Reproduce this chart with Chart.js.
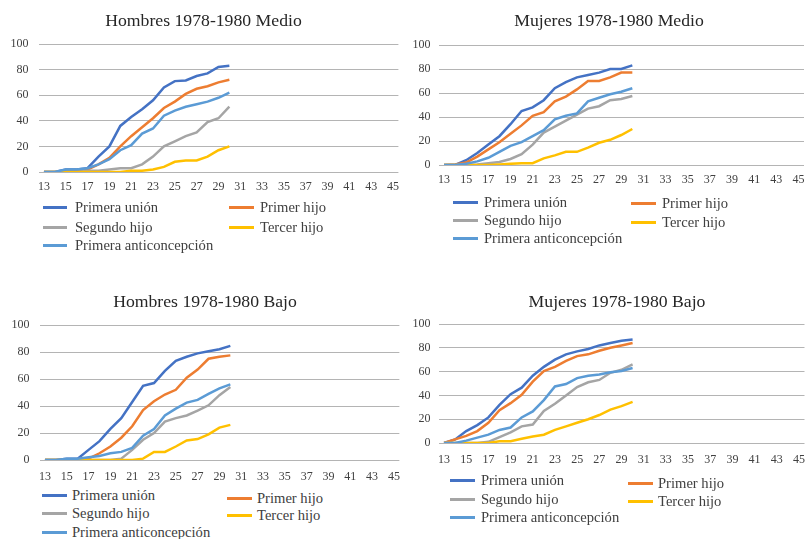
<!DOCTYPE html>
<html>
<head>
<meta charset="utf-8">
<script src="https://cdn.jsdelivr.net/npm/chart.js@4"></script>
<style>
  html, body { margin: 0; width: 807px; height: 539px; overflow: hidden; background: #fff; }
  body { position: relative; font-family: 'Liberation Serif', serif; }
  .panel { position: absolute; }
  .leg-line { position: absolute; height: 3px; }
  .leg-text { position: absolute; font-size: 14.6px; line-height: 18px; color: #404040; white-space: nowrap; }
</style>
</head>
<body>
<div class="panel" id="p1"><canvas id="c1"></canvas></div>
<div class="panel" id="p2"><canvas id="c2"></canvas></div>
<div class="panel" id="p3"><canvas id="c3"></canvas></div>
<div class="panel" id="p4"><canvas id="c4"></canvas></div>
<script>
// categories (age) and the labels shown on the x axis
const ages = ['13','14','15','16','17','18','19','20','21','22','23','24','25','26','27','28','29','30',
  '31','32','33','34','35','36','37','38','39','40','41','42','43','44','45'];
const shownAges = ['13','15','17','19','21','23','25','27','29','31','33','35','37','39','41','43','45'];
const yTicks = [0, 20, 40, 60, 80, 100];

const seriesNames = ['Primera unión', 'Primer hijo', 'Segundo hijo', 'Tercer hijo', 'Primera anticoncepción'];
const seriesColors = ['#4472C4', '#ED7D31', '#A5A5A5', '#FFC000', '#5B9BD5'];

// Hombres 1978-1980 Medio (ages 13..30)
const hMedioUnion  = [0, 0, 2, 2, 3, 12, 20, 36, 43, 49, 56, 66, 71, 71.5, 75, 77, 82, 83];
const hMedioHijo1  = [0, 0, 0, 1, 2, 6, 11, 20, 28, 35, 42, 50, 55, 61, 65, 67, 70, 72];
const hMedioHijo2  = [0, 0, 0, 0, 1, 1, 2, 3, 3, 6, 12, 20, 24, 28, 31, 39, 42, 51];
const hMedioHijo3  = [0, 0, 0, 0, 0, 0, 0, 0, 1, 1, 2, 4, 8, 9, 9, 12, 17, 20];
const hMedioAnti   = [0, 0, 2, 2, 3, 6, 10, 17, 21, 30, 34, 44, 48, 51, 53, 55, 58, 62];

// Mujeres 1978-1980 Medio
const mMedioUnion  = [0, 0, 4, 10, 17, 24, 34, 45, 48, 54, 64, 69, 73, 75, 77, 80, 80, 83];
const mMedioHijo1  = [0, 0.5, 2, 7, 13, 19, 26, 33, 41, 44, 53, 57, 63, 70, 70, 73, 77, 77];
const mMedioHijo2  = [0, 0, 0, 0.5, 1.5, 2.5, 5, 9, 17, 27, 32, 37, 42, 47, 49, 54, 55, 57.5];
const mMedioHijo3  = [0, 0, 0, 0, 0, 0.5, 1, 1.5, 1.5, 5.5, 8, 11, 11, 14.5, 18.5, 21, 25, 30];
const mMedioAnti   = [0, 0, 1, 3, 6, 11, 16, 19, 24, 29, 38, 41, 43, 53, 56, 59, 61, 64];

// Hombres 1978-1980 Bajo
const hBajoUnion   = [0, 0, 1, 1, 7.5, 14, 23, 31, 43, 55, 57, 66, 73.5, 76.5, 79, 80.5, 82, 84.5];
const hBajoHijo1   = [0, 0, 0, 0, 1, 5, 10, 16.5, 25, 37, 43.5, 48.5, 52, 61, 67, 75, 76.5, 77.5];
const hBajoHijo2   = [0, 0, 0, 0, 0, 0, 0, 1, 7.5, 15, 20, 28.5, 31, 33, 36.5, 40.5, 48, 54];
const hBajoHijo3   = [0, 0, 0, 0, 0, 0, 0, 0, 0, 1, 6, 6, 10, 14.5, 15.5, 19, 24, 26];
const hBajoAnti    = [0, 0, 1, 1, 2, 3, 5, 6, 9, 18, 23, 33, 38, 42.5, 44.5, 49, 53, 56];

// Mujeres 1978-1980 Bajo
const mBajoUnion   = [0, 3, 10, 15, 21.5, 32, 41, 46.5, 56.5, 64, 70, 74.5, 77, 79, 82, 84, 86, 87];
const mBajoHijo1   = [0, 3, 6, 10, 17, 27.5, 33.5, 40.5, 51.5, 60.5, 64, 69, 73, 74.5, 77.5, 80, 82, 84];
const mBajoHijo2   = [0, 0, 0, 0, 1, 5, 9, 14, 15.5, 27, 33, 40, 47, 51, 53, 59, 61.5, 66];
const mBajoHijo3   = [0, 0, 0, 0, 0, 1.5, 1.5, 3.5, 5.5, 7, 11, 14, 17, 20, 23.5, 28, 31, 34.5];
const mBajoAnti    = [0, 0, 2, 4.5, 7, 11, 13, 21.5, 26.5, 36, 47.5, 49.5, 54.5, 56.5, 57.5, 59.5, 60.5, 63];

/*
*   Builds one panel from the wanted plot area (page coords)
*   an empty right axis pads the canvas so the title centre lands where the original has it
*/
function makePanel(n, box, title, series) {
  const titleSize = 17.7;
  const lh = titleSize * 1.2;
  const yWidth = box.L - box.cl;
  const titleRight = 2 * box.titleX - box.cl;
  const spacer = Math.max(titleRight - box.R, 0);
  const cw = box.R + spacer - box.cl;
  const xHeight = box.ct + box.ch - box.B;
  const tPadTop = box.titleY - box.ct - lh / 2;
  const tPadBottom = box.T - box.ct - tPadTop - lh;

  const holder = document.getElementById('p' + n);
  holder.style.left = box.cl + 'px';
  holder.style.top = box.ct + 'px';
  holder.style.width = cw + 'px';
  holder.style.height = box.ch + 'px';

  const datasets = series.map((data, i) => ({
    label: seriesNames[i],
    data: data,
    borderColor: seriesColors[i],
    backgroundColor: seriesColors[i],
    borderWidth: 2.5,
    pointRadius: 0,
    tension: 0,
    order: series.length - i
  }));

  new Chart(document.getElementById('c' + n), {
    type: 'line',
    data: { labels: ages, datasets: datasets },
    options: {
      responsive: true,
      maintainAspectRatio: false,
      animation: false,
      layout: { padding: 0 },
      plugins: {
        legend: { display: false },
        tooltip: { enabled: false },
        title: {
          display: true,
          text: title,
          color: '#262626',
          font: { family: 'Liberation Serif', size: titleSize, weight: 'normal' },
          padding: { top: tPadTop, bottom: tPadBottom }
        }
      },
      scales: {
        x: {
          offset: true,
          grid: { display: false, drawTicks: false },
          border: { display: false },
          afterFit: (s) => { s.height = xHeight; },
          ticks: {
            autoSkip: false,
            maxRotation: 0,
            padding: box.xPad,
            color: '#404040',
            font: { family: 'Liberation Serif', size: 12 },
            callback: function (v) {
              const lab = this.getLabelForValue(v);
              return shownAges.includes(lab) ? lab : '';
            }
          }
        },
        y: {
          min: yTicks[0],
          max: yTicks[yTicks.length - 1],
          afterFit: (s) => { s.width = yWidth; },
          afterBuildTicks: (s) => { s.ticks = yTicks.map(v => ({ value: v })); },
          grid: { color: '#b4b4b4', lineWidth: 1, drawTicks: false },
          border: { display: false },
          ticks: {
            padding: box.yPad,
            color: '#404040',
            font: { family: 'Liberation Serif', size: 12 }
          }
        },
        pad: {
          type: 'linear',
          position: 'right',
          grid: { display: false, drawTicks: false },
          border: { display: false },
          ticks: { display: false },
          afterFit: (s) => { s.width = spacer; }
        }
      }
    }
  });

  // legend, two columns like the original
  const slots = [[0, 0], [1, 0], [0, 1], [1, 1], [0, 2]];
  slots.forEach(([col, row], i) => {
    const c = box.legCols[col];
    const y = col === 0 ? box.legRows1[row] : box.legRows2[row];
    const line = document.createElement('div');
    line.className = 'leg-line';
    line.style.left = c[0] + 'px';
    line.style.width = (c[1] - c[0]) + 'px';
    line.style.top = (y - 1.5) + 'px';
    line.style.background = seriesColors[i];
    document.body.appendChild(line);
    const txt = document.createElement('div');
    txt.className = 'leg-text';
    txt.style.left = c[2] + 'px';
    txt.style.top = (y - 9) + 'px';
    txt.textContent = seriesNames[i];
    document.body.appendChild(txt);
  });
}

makePanel(1, { cl: 0, ct: 0, ch: 196, L: 38.5, R: 404, T: 44, B: 172, titleX: 203.5, titleY: 21,
  xPad: 8, yPad: 10,
  legCols: [[43, 67, 75], [229, 254, 260]], legRows1: [207, 227, 245], legRows2: [207, 227] },
  'Hombres 1978-1980 Medio', [hMedioUnion, hMedioHijo1, hMedioHijo2, hMedioHijo3, hMedioAnti]);

makePanel(2, { cl: 404, ct: 0, ch: 189, L: 438.5, R: 804, T: 45, B: 165, titleX: 609, titleY: 21,
  xPad: 8, yPad: 8,
  legCols: [[453, 478, 484], [631, 656, 662]], legRows1: [202, 220, 238], legRows2: [203, 222] },
  'Mujeres 1978-1980 Medio', [mMedioUnion, mMedioHijo1, mMedioHijo2, mMedioHijo3, mMedioAnti]);

makePanel(3, { cl: 0, ct: 280, ch: 204, L: 39.5, R: 404.5, T: 325, B: 460, titleX: 205, titleY: 302,
  xPad: 10, yPad: 10,
  legCols: [[42, 67, 72], [227, 252, 257]], legRows1: [495, 513, 532], legRows2: [498, 515] },
  'Hombres 1978-1980 Bajo', [hBajoUnion, hBajoHijo1, hBajoHijo2, hBajoHijo3, hBajoAnti]);

makePanel(4, { cl: 404, ct: 280, ch: 187, L: 438.5, R: 804.5, T: 324, B: 443, titleX: 617, titleY: 302,
  xPad: 10, yPad: 8,
  legCols: [[450, 475, 481], [628, 653, 658]], legRows1: [480, 499, 517], legRows2: [483, 501] },
  'Mujeres 1978-1980 Bajo', [mBajoUnion, mBajoHijo1, mBajoHijo2, mBajoHijo3, mBajoAnti]);
</script>
</body>
</html>
